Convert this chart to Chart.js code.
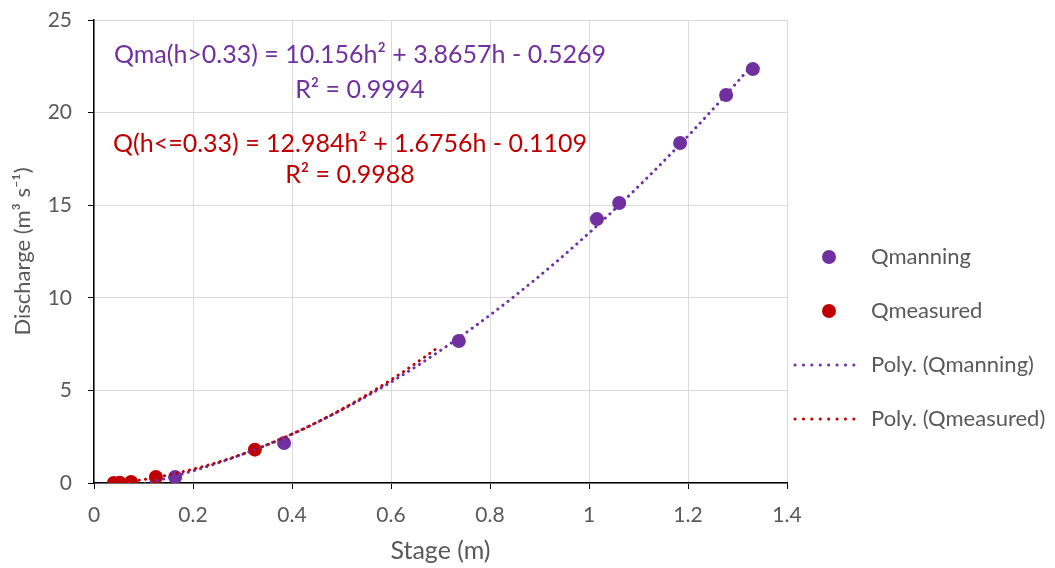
<!DOCTYPE html>
<html>
<head>
<meta charset="utf-8">
<script src="https://cdn.jsdelivr.net/npm/chart.js@4/dist/chart.umd.min.js"></script>
<style>
  body { margin: 0; background: #fff; }
  #wrap { width: 1055px; height: 568px; }
</style>
</head>
<body>
<div id="wrap"><canvas id="rating" width="1055" height="568"></canvas></div>
<script>
// stage (m) and discharge (m3/s) readings
const stageManning = [0.164, 0.384, 0.737, 1.016, 1.061, 1.184, 1.277, 1.331];
const qManning = [0.32, 2.16, 7.67, 14.25, 15.12, 18.36, 20.95, 22.35];

const stageMeasured = [0.040, 0.052, 0.075, 0.125, 0.325];
const qMeasured = [0.0, 0.02, 0.05, 0.32, 1.80];

// polynomial fits: a*h^2 + b*h + c
const polyManning = [10.156, 3.8657, -0.5269];
const polyMeasured = [12.984, 1.6756, -0.1109];
const fitRangeManning = [0.09, 1.331];
const fitRangeMeasured = [0.04, 0.695];

const eqManning = ['Qma(h>0.33) = 10.156h\u00B2 + 3.8657h - 0.5269', 'R\u00B2 = 0.9994'];
const eqMeasured = ['Q(h<=0.33) = 12.984h\u00B2 + 1.6756h - 0.1109', 'R\u00B2 = 0.9988'];

const seriesLabels = ['Qmanning', 'Qmeasured', 'Poly. (Qmanning)', 'Poly. (Qmeasured)'];
const xTickLabels = ['0', '0.2', '0.4', '0.6', '0.8', '1', '1.2', '1.4'];
const yTickLabels = ['0', '5', '10', '15', '20', '25'];

const PURPLE = '#7030A0';
const RED = '#C00000';
const GREY = '#595959';
const FONT = 'Lato, "Open Sans", sans-serif';

function toPoints(xs, ys) {
  return xs.map((x, i) => ({ x: x, y: ys[i] }));
}

// sample the fitted curve between the given stages
function curve(coef, range) {
  const pts = [];
  const n = 120;
  for (let i = 0; i <= n; i++) {
    const h = range[0] + (range[1] - range[0]) * i / n;
    pts.push({ x: h, y: coef[0] * h * h + coef[1] * h + coef[2] });
  }
  return pts;
}

const dotted = {
  showLine: true,
  pointRadius: 0,
  borderWidth: 3,
  borderDash: [0.1, 6.3],
  borderCapStyle: 'round',
  fill: false
};

// fit equations written over the plot
const equationText = {
  id: 'equationText',
  afterDatasetsDraw(chart) {
    const ctx = chart.ctx;
    const a = chart.chartArea;
    ctx.save();
    ctx.font = '25px ' + FONT;
    ctx.textAlign = 'center';
    ctx.textBaseline = 'alphabetic';
    ctx.fillStyle = PURPLE;
    ctx.fillText(eqManning[0], a.left + 266, a.top + 43);
    ctx.fillText(eqManning[1], a.left + 266, a.top + 78);
    ctx.fillStyle = RED;
    ctx.fillText(eqMeasured[0], a.left + 256, a.top + 132);
    ctx.fillText(eqMeasured[1], a.left + 256, a.top + 163);
    ctx.restore();
  }
};

// legend on the right hand side
const sideLegend = {
  id: 'sideLegend',
  afterDraw(chart) {
    const ctx = chart.ctx;
    const a = chart.chartArea;
    const rows = [237, 291, 345, 399];
    ctx.save();
    ctx.font = '22px ' + FONT;
    ctx.textBaseline = 'middle';
    chart.data.datasets.forEach((ds, i) => {
      const y = a.top + rows[i];
      if (ds.showLine) {
        ctx.strokeStyle = ds.borderColor;
        ctx.lineWidth = 3;
        ctx.lineCap = 'round';
        ctx.setLineDash([0.1, 8.3]);
        ctx.beginPath();
        ctx.moveTo(a.right + 8, y);
        ctx.lineTo(a.right + 75, y);
        ctx.stroke();
        ctx.setLineDash([]);
      } else {
        ctx.fillStyle = ds.backgroundColor;
        ctx.beginPath();
        ctx.arc(a.right + 42, y, 7, 0, Math.PI * 2);
        ctx.fill();
      }
      ctx.fillStyle = GREY;
      ctx.fillText(ds.label, a.right + 84, y);
    });
    ctx.restore();
  }
};

new Chart(document.getElementById('rating'), {
  type: 'scatter',
  data: {
    datasets: [
      {
        label: seriesLabels[0],
        data: toPoints(stageManning, qManning),
        backgroundColor: PURPLE,
        borderColor: PURPLE,
        pointRadius: 7,
        pointBorderWidth: 0,
        order: 3
      },
      {
        label: seriesLabels[1],
        data: toPoints(stageMeasured, qMeasured),
        backgroundColor: RED,
        borderColor: RED,
        pointRadius: 7,
        pointBorderWidth: 0,
        order: 2
      },
      Object.assign({
        label: seriesLabels[2],
        data: curve(polyManning, fitRangeManning),
        borderColor: PURPLE,
        order: 1
      }, dotted),
      Object.assign({
        label: seriesLabels[3],
        data: curve(polyMeasured, fitRangeMeasured),
        borderColor: RED,
        order: 0
      }, dotted)
    ]
  },
  options: {
    responsive: false,
    animation: false,
    layout: { padding: { left: 4, right: 268, top: 20, bottom: 0 } },
    plugins: {
      legend: { display: false },
      tooltip: { enabled: false }
    },
    scales: {
      x: {
        type: 'linear',
        min: 0,
        max: 1.4,
        afterFit: s => { s.height = 85; s.paddingLeft = 0; s.paddingRight = 0; },
        afterBuildTicks: s => { s.ticks = xTickLabels.map(t => ({ value: parseFloat(t) })); },
        ticks: {
          callback: (v, i) => xTickLabels[i],
          color: GREY,
          font: { family: FONT, size: 21 },
          padding: 14,
          maxRotation: 0
        },
        grid: { color: '#D9D9D9', tickColor: '#000', tickLength: 6, lineWidth: 1 },
        border: { color: '#000', width: 1.5 },
        title: {
          display: true,
          text: 'Stage (m)',
          color: GREY,
          font: { family: FONT, size: 25 },
          padding: { top: 4, bottom: 2 }
        }
      },
      y: {
        min: 0,
        max: 25,
        afterFit: s => { s.width = 90; s.paddingTop = 0; s.paddingBottom = 0; },
        afterBuildTicks: s => { s.ticks = yTickLabels.map(t => ({ value: parseFloat(t) })); },
        ticks: {
          callback: (v, i) => yTickLabels[i],
          color: GREY,
          font: { family: FONT, size: 21 },
          padding: 16
        },
        grid: { color: '#D9D9D9', tickColor: '#000', tickLength: 6, lineWidth: 1 },
        border: { color: '#000', width: 1.5 },
        title: {
          display: true,
          text: 'Discharge (m\u00B3 s\u207B\u00B9)',
          color: GREY,
          font: { family: FONT, size: 22 },
          padding: { top: 6, bottom: 4 }
        }
      }
    }
  },
  plugins: [equationText, sideLegend]
});
</script>
</body>
</html>
